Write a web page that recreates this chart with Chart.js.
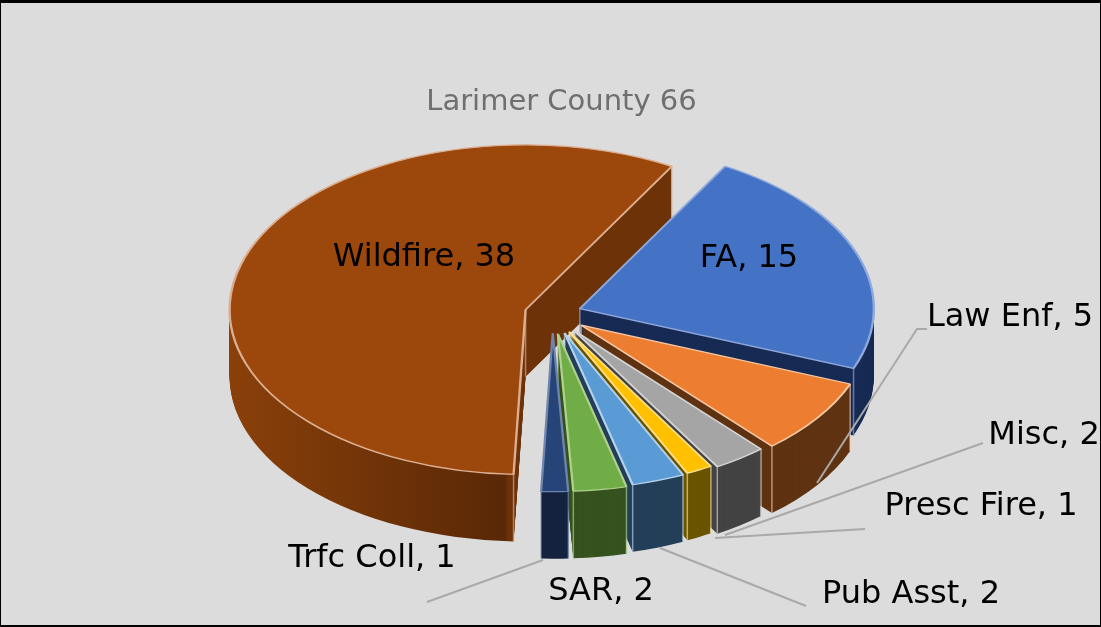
<!DOCTYPE html>
<html lang="en">
<head>
    <meta charset="UTF-8">
    <title>Larimer County 66</title>
    <script src="https://cdn.jsdelivr.net/npm/chart.js"></script>
    <style>
        body { margin: 0; background: #dcdcdc; overflow: hidden; }
        canvas { display: block; }
        .frame {
            position: absolute; left: 0; top: 0; right: 0; bottom: 0;
            border-top: 3px solid #000; border-left: 1px solid #000;
            border-right: 1px solid #000; border-bottom: 2px solid #000;
            pointer-events: none;
        }
    </style>
</head>
<body>
    <canvas id="pie" width="1101" height="627"></canvas>
    <div class="frame"></div>

    <script>
        const chartTitle = 'Larimer County 66';
        const categories = ['FA', 'Law Enf', 'Misc', 'Presc Fire', 'Pub Asst', 'SAR', 'Trfc Coll', 'Wildfire'];
        const values = [15, 5, 2, 1, 2, 2, 1, 38];

        const topColors = ['#4472c4', '#ed7d31', '#a5a5a5', '#ffc000', '#5b9bd5', '#70ad47', '#264478', '#9c470b'];
        const sideColors = ['#172b54', '#5f3312', '#434343', '#6b5400', '#243f58', '#36531f', '#14233f', '#6e3208'];
        const edgeColors = ['#8fa9dc', '#f8c8a5', '#d4d4d4', '#ffe08a', '#b5d2ec', '#b0d090', '#6f85ad', '#dcae90'];

        // 3d look
        const centerX = 552.5, centerY = 314, squash = 0.557, depth = 67;
        const explode = [29, 35, 36, 36, 36, 36, 34, 28];
        const sliceRadius = [294, 289, 284, 280, 281, 283, 285, 296];
        const drawOrder = [7, 0, 1, 2, 3, 4, 5, 6];

        // label text position, by category
        const labelSpots = [[749, 259], [1010, 318], [1044, 436], [981, 507], [911, 595], [601, 592], [372, 559], [424, 258]];
        const leaderLines = [
            [[927, 329], [917, 329], [817, 483]],
            [[983, 443], [725, 535]],
            [[865, 529], [715, 538]],
            [[806, 606], [660, 548]],
            [[427, 602], [543, 560]]
        ];

        function withOptions(arc, extra, fn) {
            const saved = arc.options;
            arc.options = Object.assign({}, saved, extra);
            fn();
            arc.options = saved;
        }

        const pie3d = {
            id: 'pie3d',
            beforeDatasetsDraw(chart) {
                const ctx = chart.ctx;
                const arcs = chart.getDatasetMeta(0).data;

                drawOrder.forEach(i => {
                    const arc = arcs[i];
                    const r = sliceRadius[i];
                    const k = r / arc.outerRadius;
                    const mid = (arc.startAngle + arc.endAngle) / 2;
                    const px = centerX + explode[i] * Math.cos(mid);
                    const py = centerY + explode[i] * squash * Math.sin(mid);

                    const place = (down) => {
                        ctx.translate(px, py + down);
                        ctx.scale(k, k * squash);
                        ctx.translate(-arc.x, -arc.y);
                    };

                    // wildfire outer wall gets darker to the right
                    let side = sideColors[i];
                    if (categories[i] === 'Wildfire') {
                        side = ctx.createLinearGradient(arc.x - arc.outerRadius, 0, arc.x + arc.outerRadius, 0);
                        side.addColorStop(0, '#8a400a');
                        side.addColorStop(0.465, '#592806');
                        side.addColorStop(0.47, sideColors[i]);
                        side.addColorStop(1, sideColors[i]);
                    }

                    for (let d = depth; d > 0; d--) {
                        ctx.save();
                        place(d);
                        withOptions(arc, { backgroundColor: side, borderWidth: 0 }, () => arc.draw(ctx));
                        ctx.restore();
                    }

                    // vertical edges of the walls
                    ctx.save();
                    ctx.strokeStyle = edgeColors[i];
                    ctx.globalAlpha = 0.65;
                    ctx.lineWidth = 1.5;
                    ctx.beginPath();
                    ctx.moveTo(px, py);
                    ctx.lineTo(px, py + depth);
                    [arc.startAngle, arc.endAngle].forEach(a => {
                        const ex = px + r * Math.cos(a);
                        const ey = py + r * squash * Math.sin(a);
                        ctx.moveTo(ex, ey);
                        ctx.lineTo(ex, ey + depth);
                    });
                    ctx.stroke();
                    ctx.restore();

                    // top face
                    ctx.save();
                    place(0);
                    withOptions(arc, { backgroundColor: topColors[i], borderColor: edgeColors[i], borderWidth: 2 }, () => arc.draw(ctx));
                    ctx.restore();
                });

                // leader lines
                ctx.save();
                ctx.strokeStyle = '#a9a9a9';
                ctx.lineWidth = 2;
                leaderLines.forEach(line => {
                    ctx.beginPath();
                    line.forEach((p, n) => n ? ctx.lineTo(p[0], p[1]) : ctx.moveTo(p[0], p[1]));
                    ctx.stroke();
                });
                ctx.restore();

                // labels
                ctx.save();
                ctx.fillStyle = '#000';
                ctx.font = '32px "DejaVu Sans"';
                ctx.textAlign = 'center';
                ctx.textBaseline = 'middle';
                categories.forEach((c, i) => {
                    ctx.fillText(c + ', ' + values[i], labelSpots[i][0], labelSpots[i][1]);
                });
                ctx.restore();

                return false;
            }
        };

        new Chart(document.getElementById('pie'), {
            type: 'pie',
            data: {
                labels: categories,
                datasets: [{ data: values, backgroundColor: topColors, borderWidth: 0 }]
            },
            options: {
                responsive: false,
                animation: false,
                rotation: 29.6,
                layout: { padding: { left: 22 } },
                plugins: {
                    legend: { display: false },
                    tooltip: { enabled: false },
                    title: {
                        display: true,
                        text: chartTitle,
                        color: '#6f6f6f',
                        font: { family: '"DejaVu Sans"', size: 29, weight: 'normal' },
                        padding: { top: 85, bottom: 10 }
                    }
                }
            },
            plugins: [pie3d]
        });
    </script>
</body>
</html>
